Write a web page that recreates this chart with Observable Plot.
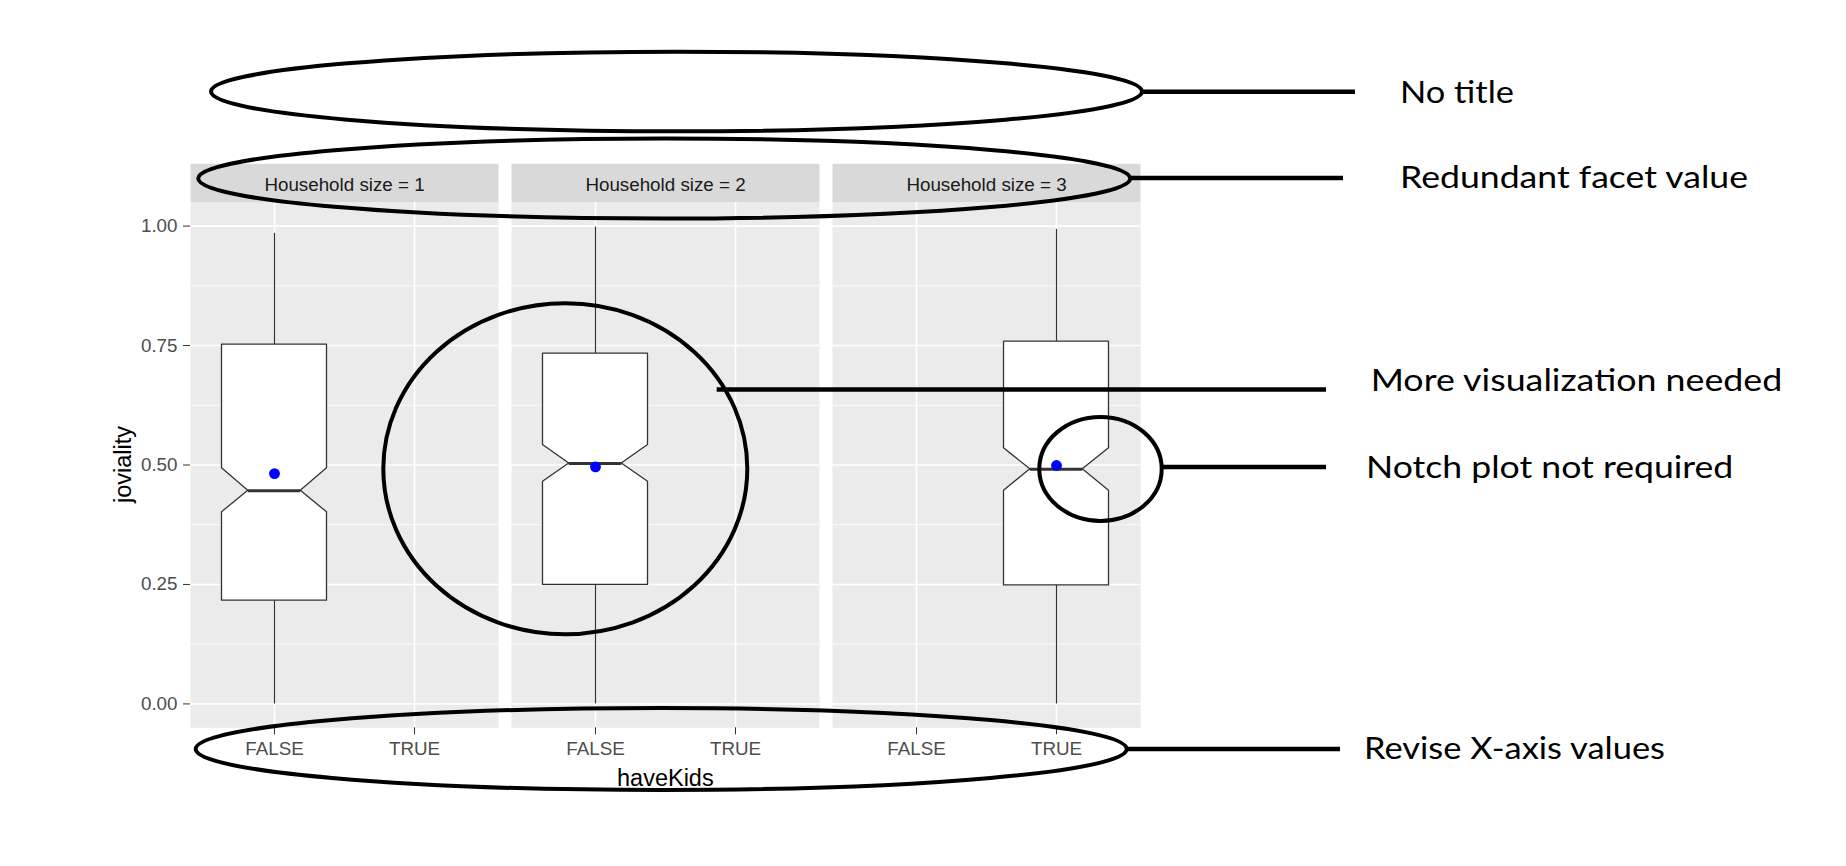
<!DOCTYPE html>
<html>
<head>
<meta charset="utf-8">
<script src="https://cdn.jsdelivr.net/npm/d3@7"></script>
<script src="https://cdn.jsdelivr.net/npm/@observablehq/plot@0.6"></script>
<style>
  html, body { margin: 0; padding: 0; background: #ffffff; }
  #chart svg { display: block; }
</style>
</head>
<body>
<div id="chart"></div>
<script>
// ---------------- data ----------------
const householdSizes = [1, 2, 3];
const haveKids = ["FALSE", "TRUE"];
const boxGroup = ["FALSE", "FALSE", "TRUE"];      // haveKids level holding the box in each facet
const whiskerLow  = [0.000, 0.000, 0.000];
const lowerHinge  = [0.216, 0.249, 0.248];
const medians     = [0.446, 0.503, 0.491];
const upperHinge  = [0.752, 0.733, 0.758];
const whiskerHigh = [0.985, 0.998, 0.993];
const notchLow    = [0.401, 0.465, 0.446];
const notchHigh   = [0.493, 0.542, 0.535];
const means       = [0.482, 0.496, 0.499];
const yTicks      = [0, 0.25, 0.5, 0.75, 1];
const yMinorTicks = [0.125, 0.375, 0.625, 0.875];
const stripPrefix = "Household size = ";
const xTitle = "haveKids";
const yTitle = "joviality";
const calloutTexts = [
  "No title",
  "Redundant facet value",
  "More visualization needed",
  "Notch plot not required",
  "Revise X-axis values"
];

// ---------------- layout / style ----------------
const W = 1846, H = 866;
const M = {top: 201.7, right: 704.3, bottom: 138.7, left: 189};
const frameH = H - M.top - M.bottom;
const stripH = 38.4;
const boxHalf = 0.375;       // half box width (x units)
const notchRatio = 0.5;
const fontMain = "'Liberation Sans', Arial, sans-serif";
const fs = 18.8;

// callout geometry (annotation overlay, pixels)
const calloutEllipses = [
  {cx: 676.5, cy: 91.5, rx: 465.5, ry: 39.8},
  {cx: 664.2, cy: 178.5, rx: 466, ry: 40},
  {cx: 565.3, cy: 468.7, rx: 182, ry: 165.5},
  {cx: 1100.5, cy: 468.9, rx: 61.2, ry: 52},
  {cx: 661.2, cy: 749, rx: 465.5, ry: 41}
];
const calloutLines = [
  {x1: 1142, x2: 1355, y: 91.7},
  {x1: 1130, x2: 1343, y: 178},
  {x1: 716.7, x2: 1326, y: 389.5},
  {x1: 1162, x2: 1326, y: 467},
  {x1: 1126.7, x2: 1340, y: 749}
];
const calloutLabelPos = [
  {x: 1400, y: 103.3, w: 114},
  {x: 1400, y: 188.3, w: 348},
  {x: 1370.7, y: 391, w: 411.6},
  {x: 1366, y: 477.5, w: 367.3},
  {x: 1364, y: 759, w: 301}
];

// ---------------- derived tables ----------------
const pos = k => haveKids.indexOf(k) + 1;
const boxes = householdSizes.map((h, i) => ({
  h, x: pos(boxGroup[i]),
  lo: whiskerLow[i], q1: lowerHinge[i], med: medians[i], q3: upperHinge[i],
  hi: whiskerHigh[i], nlo: notchLow[i], nhi: notchHigh[i], mean: means[i]
}));
const outline = boxes.flatMap(b => [
  {y: b.q1, hw: boxHalf},
  {y: b.nlo, hw: boxHalf},
  {y: b.med, hw: boxHalf * notchRatio},
  {y: b.nhi, hw: boxHalf},
  {y: b.q3, hw: boxHalf}
].map(p => ({h: b.h, x: b.x, y: p.y, hw: p.hw})));

const plot = Plot.plot({
  width: W,
  height: H,
  marginTop: M.top,
  marginRight: M.right,
  marginBottom: M.bottom,
  marginLeft: M.left,
  style: {fontFamily: fontMain, fontSize: fs + "px", background: "white", overflow: "visible"},
  fx: {domain: householdSizes, axis: null, paddingInner: 0.0391, paddingOuter: 0},
  x: {type: "linear", domain: [0.4, 2.6], axis: null},
  y: {domain: [-0.05, 1.05], axis: null},
  marks: [
    Plot.frame({fill: "#EBEBEB"}),
    Plot.frame({fill: "#D9D9D9", insetTop: -stripH, insetBottom: frameH}),
    Plot.ruleY(yMinorTicks, {stroke: "white", strokeWidth: 0.8}),
    Plot.ruleY(yTicks, {stroke: "white", strokeWidth: 1.6}),
    Plot.ruleX(haveKids.map(pos), {stroke: "white", strokeWidth: 1.6}),
    Plot.text(householdSizes, {fx: d => d, text: d => stripPrefix + d, frameAnchor: "top", lineAnchor: "middle", dy: -17.5, fill: "#1A1A1A", fontSize: fs}),
    Plot.ruleX(boxes, {fx: "h", x: "x", y1: "q3", y2: "hi", stroke: "#333333", strokeWidth: 1.2}),
    Plot.ruleX(boxes, {fx: "h", x: "x", y1: "lo", y2: "q1", stroke: "#333333", strokeWidth: 1.2}),
    Plot.areaX(outline, {fx: "h", z: "h", y: "y", x1: d => d.x - d.hw, x2: d => d.x + d.hw, fill: "white", stroke: "#333333", strokeWidth: 1.3, curve: "linear"}),
    Plot.ruleY(boxes, {fx: "h", y: "med", x1: d => d.x - boxHalf * notchRatio, x2: d => d.x + boxHalf * notchRatio, stroke: "#333333", strokeWidth: 3}),
    Plot.dot(boxes, {fx: "h", x: "x", y: "mean", r: 5.4, fill: "blue", stroke: null}),
    Plot.axisY(yTicks, {tickFormat: d => d.toFixed(2), tickSize: 7, tickPadding: 6, stroke: "#333333", fill: "#4D4D4D", fontSize: fs, label: null}),
    Plot.axisX(haveKids.map(pos), {tickFormat: d => haveKids[d - 1], tickSize: 7, tickPadding: 7, stroke: "#333333", fill: "#4D4D4D", fontSize: fs, label: null})
  ]
});

document.getElementById("chart").appendChild(plot);

// axis titles
const svg = d3.select(plot);
svg.append("text")
  .attr("x", (M.left + W - M.right) / 2)
  .attr("y", H - M.bottom + 50)
  .attr("dy", "0.35em")
  .attr("text-anchor", "middle")
  .attr("font-family", fontMain)
  .attr("font-size", 23.5)
  .attr("fill", "black")
  .text(xTitle);
svg.append("text")
  .attr("transform", `translate(122.5,${M.top + frameH / 2}) rotate(-90)`)
  .attr("dy", "0.35em")
  .attr("text-anchor", "middle")
  .attr("font-family", fontMain)
  .attr("font-size", 23.5)
  .attr("fill", "black")
  .text(yTitle);

// callout overlay
const g = svg.append("g").attr("class", "callouts");
g.selectAll("ellipse").data(calloutEllipses).join("ellipse")
  .attr("cx", d => d.cx).attr("cy", d => d.cy)
  .attr("rx", d => d.rx).attr("ry", d => d.ry)
  .attr("fill", "none").attr("stroke", "black").attr("stroke-width", 4);
g.selectAll("line").data(calloutLines).join("line")
  .attr("x1", d => d.x1).attr("x2", d => d.x2)
  .attr("y1", d => d.y).attr("y2", d => d.y)
  .attr("stroke", "black").attr("stroke-width", 4.6);
g.selectAll("text").data(calloutTexts).join("text")
  .attr("x", (d, i) => calloutLabelPos[i].x)
  .attr("y", (d, i) => calloutLabelPos[i].y)
  .attr("text-anchor", "start")
  .attr("textLength", (d, i) => calloutLabelPos[i].w)
  .attr("lengthAdjust", "spacingAndGlyphs")
  .attr("font-family", "Lato, 'Open Sans', sans-serif")
  .attr("font-size", 30)
  .attr("fill", "black")
  .text(d => d);
</script>
</body>
</html>
